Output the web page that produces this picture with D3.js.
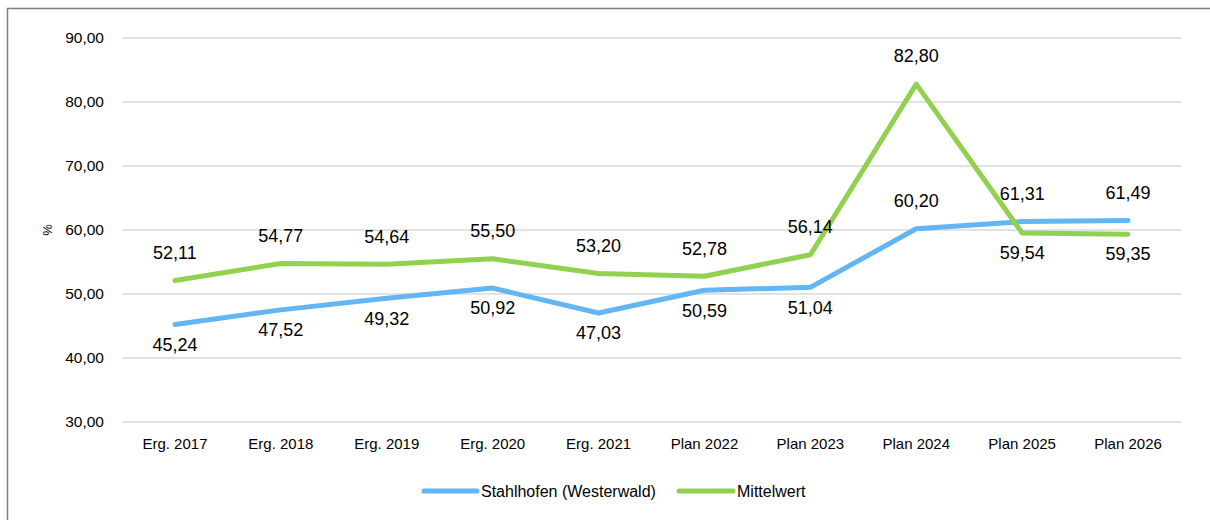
<!DOCTYPE html>
<html>
<head>
<meta charset="utf-8">
<script src="https://cdn.jsdelivr.net/npm/d3@7"></script>
<style>
  html, body { margin: 0; padding: 0; background: #fff; }
  svg { display: block; font-family: "Liberation Sans", Arial, sans-serif; }
</style>
</head>
<body>
<svg id="chart" width="1210" height="520"></svg>
<script>
const categories = ["Erg. 2017", "Erg. 2018", "Erg. 2019", "Erg. 2020", "Erg. 2021",
                    "Plan 2022", "Plan 2023", "Plan 2024", "Plan 2025", "Plan 2026"];
const stahlhofen = [45.24, 47.52, 49.32, 50.92, 47.03, 50.59, 51.04, 60.20, 61.31, 61.49];
const mittelwert = [52.11, 54.77, 54.64, 55.50, 53.20, 52.78, 56.14, 82.80, 59.54, 59.35];
const stahlhofenLabelPos = ["below","below","below","below","below","below","below","above","above","above"];
const mittelwertLabelPos = ["above","above","above","above","above","above","above","above","below","below"];
const yTicks = [30, 40, 50, 60, 70, 80, 90];
const seriesNames = ["Stahlhofen (Westerwald)", "Mittelwert"];
const seriesColors = ["#63B5F4", "#92D050"];

const svg = d3.select("#chart");
const fmt = v => d3.format(".2f")(v).replace(".", ",");

// outer frame
svg.append("rect").attr("x", 7.5).attr("y", 8.5).attr("width", 1230).attr("height", 540)
  .attr("fill", "none").attr("stroke", "#7f7f7f").attr("stroke-width", 1.5);

const x = d3.scaleBand().domain(categories).range([122, 1181]);
const y = d3.scaleLinear().domain([30, 90]).range([422, 38]);

// grid
svg.append("g").selectAll("line").data(yTicks).join("line")
  .attr("x1", 122).attr("x2", 1181)
  .attr("y1", d => y(d)).attr("y2", d => y(d))
  .attr("stroke", "#d9d9d9").attr("stroke-width", 1.5);

// y axis labels
const yAxis = d3.axisLeft(y).tickValues(yTicks).tickFormat(fmt).tickSize(0).tickPadding(0);
const gy = svg.append("g").attr("transform", "translate(104,0)").call(yAxis);
gy.select(".domain").remove();
gy.selectAll("text").attr("font-size", 15.5).attr("fill", "#000")
  .attr("font-family", "'Liberation Sans', Arial, sans-serif");

// y title
svg.append("text").attr("transform", "translate(52,230) rotate(-90)")
  .attr("text-anchor", "middle").attr("font-size", 13).attr("fill", "#000").text("%");

// x axis labels
const xAxis = d3.axisBottom(x).tickSize(0).tickPadding(0);
const gx = svg.append("g").attr("transform", "translate(0,438)").call(xAxis);
gx.select(".domain").remove();
gx.selectAll("text").attr("font-size", 15).attr("fill", "#000").attr("dy", "0.71em")
  .attr("font-family", "'Liberation Sans', Arial, sans-serif");

const cx = c => x(c) + x.bandwidth() / 2;
const line = d3.line().x((d, i) => cx(categories[i])).y(d => y(d));

const series = [
  { name: seriesNames[0], values: stahlhofen, pos: stahlhofenLabelPos, color: seriesColors[0] },
  { name: seriesNames[1], values: mittelwert, pos: mittelwertLabelPos, color: seriesColors[1] }
];

series.forEach(s => {
  svg.append("path").datum(s.values).attr("d", line)
    .attr("fill", "none").attr("stroke", s.color).attr("stroke-width", 5)
    .attr("stroke-linejoin", "round").attr("stroke-linecap", "round");
});

series.forEach(s => {
  svg.append("g").selectAll("text").data(s.values).join("text")
    .attr("x", (d, i) => cx(categories[i]))
    .attr("y", (d, i) => y(d) + (s.pos[i] === "above" ? -28 : 20))
    .attr("dy", "0.35em")
    .attr("text-anchor", "middle").attr("font-size", 18).attr("fill", "#000")
    .text(d => fmt(d));
});

// legend
const legend = [
  { name: seriesNames[0], color: seriesColors[0], x0: 424, x1: 477, tx: 481 },
  { name: seriesNames[1], color: seriesColors[1], x0: 679, x1: 733, tx: 737 }
];
legend.forEach(l => {
  svg.append("line").attr("x1", l.x0).attr("x2", l.x1).attr("y1", 491).attr("y2", 491)
    .attr("stroke", l.color).attr("stroke-width", 5).attr("stroke-linecap", "round");
  svg.append("text").attr("x", l.tx).attr("y", 491).attr("dy", "0.35em")
    .attr("font-size", 16).attr("fill", "#000").text(l.name);
});
</script>
</body>
</html>
